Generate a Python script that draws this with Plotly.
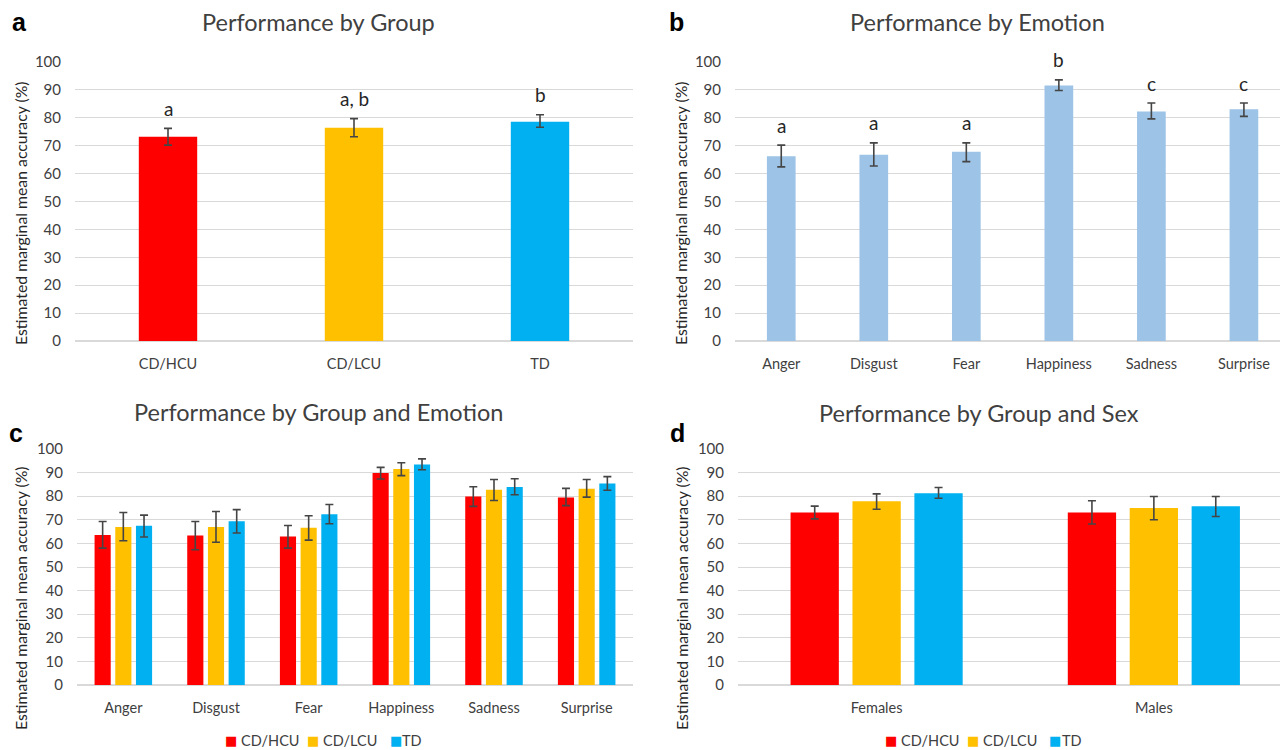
import plotly.graph_objects as go

# ---------------- data ----------------
groups = ["CD/HCU", "CD/LCU", "TD"]
group_colors = ["#FF0000", "#FFC000", "#00B0F0"]

# Panel a: by group
a_mean = [73.2, 76.4, 78.6]
a_lo = [70.2, 73.2, 76.6]
a_hi = [76.2, 79.7, 81.1]
a_letters = ["a", "a, b", "b"]

# Panel b: by emotion
emotions = ["Anger", "Disgust", "Fear", "Happiness", "Sadness", "Surprise"]
b_mean = [66.2, 66.8, 67.8, 91.6, 82.3, 83.1]
b_lo = [62.4, 62.7, 64.3, 89.8, 79.6, 80.5]
b_hi = [70.2, 71.0, 71.0, 93.6, 85.3, 85.3]
b_letters = ["a", "a", "a", "b", "c", "c"]

# Panel c: by group and emotion
c_mean = {
    "CD/HCU": [63.6, 63.4, 62.9, 89.8, 79.9, 79.5],
    "CD/LCU": [67.0, 67.0, 66.6, 91.5, 82.7, 83.2],
    "TD":     [67.5, 69.4, 72.3, 93.4, 83.9, 85.4],
}
c_lo = {
    "CD/HCU": [58.0, 57.3, 58.0, 87.3, 75.7, 76.0],
    "CD/LCU": [61.1, 60.5, 61.4, 88.7, 78.2, 79.6],
    "TD":     [62.7, 64.4, 68.3, 91.2, 80.6, 82.5],
}
c_hi = {
    "CD/HCU": [69.3, 69.3, 67.6, 92.2, 84.0, 83.3],
    "CD/LCU": [73.1, 73.5, 71.7, 94.2, 87.1, 87.1],
    "TD":     [72.0, 74.3, 76.5, 95.8, 87.4, 88.3],
}

# Panel d: by group and sex
sexes = ["Females", "Males"]
d_mean = {"CD/HCU": [73.1, 73.1], "CD/LCU": [77.9, 75.0], "TD": [81.2, 75.7]}
d_lo = {"CD/HCU": [70.4, 68.2], "CD/LCU": [74.5, 70.0], "TD": [79.1, 71.4]}
d_hi = {"CD/HCU": [75.8, 78.1], "CD/LCU": [81.0, 79.9], "TD": [83.7, 79.9]}

y_ticks = [0, 10, 20, 30, 40, 50, 60, 70, 80, 90, 100]

# ---------------- style ----------------
FONT = "Lato"
TXT = "#404040"
GRID = "#D9D9D9"
ERR = "#454545"
W, H = 1280, 750


def err(mean, lo, hi):
    return dict(type="data", symmetric=False,
                array=[h - m for m, h in zip(mean, hi)],
                arrayminus=[m - l for m, l in zip(mean, lo)],
                color=ERR, thickness=1.6, width=4)


fig = go.Figure()

# Panel a
fig.add_trace(go.Bar(x=groups, y=a_mean, marker_color=group_colors, marker_line_width=0,
                     width=0.314, error_y=err(a_mean, a_lo, a_hi), showlegend=False,
                     xaxis="x", yaxis="y"))
# Panel b
fig.add_trace(go.Bar(x=emotions, y=b_mean, marker_color="#9DC3E6", marker_line_width=0,
                     width=0.31, error_y=err(b_mean, b_lo, b_hi), showlegend=False,
                     xaxis="x2", yaxis="y2"))
# Panel c
for g, col in zip(groups, group_colors):
    fig.add_trace(go.Bar(x=emotions, y=c_mean[g], name=g, marker_color=col,
                         marker_line_width=0, showlegend=False,
                         error_y=err(c_mean[g], c_lo[g], c_hi[g]),
                         xaxis="x3", yaxis="y3"))
# Panel d
for g, col in zip(groups, group_colors):
    fig.add_trace(go.Bar(x=sexes, y=d_mean[g], name=g, marker_color=col,
                         marker_line_width=0, showlegend=False,
                         error_y=err(d_mean[g], d_lo[g], d_hi[g]),
                         xaxis="x4", yaxis="y4"))


def px(x):
    return x / W


def py(y):
    return 1 - y / H


yax = dict(range=[0, 100], tickvals=y_ticks, showgrid=True, gridcolor=GRID,
           gridwidth=1.3, zeroline=True, zerolinecolor=GRID, zerolinewidth=1.5,
           showline=False, automargin=False,
           tickfont=dict(family=FONT, size=15, color=TXT), ticklabelstandoff=13,
           fixedrange=True)
xax = dict(showgrid=False, zeroline=False, showline=False, automargin=False,
           tickfont=dict(family=FONT, size=14.5, color=TXT), ticklabelstandoff=12,
           fixedrange=True)

top_dom = [py(341), py(62)]
bot_dom = [py(685), py(449)]

fig.update_layout(
    width=W, height=H, margin=dict(l=0, r=0, t=0, b=0, autoexpand=False),
    paper_bgcolor="white", plot_bgcolor="white", showlegend=False,
    barmode="group", bargap=0.33, bargroupgap=0.22,
    xaxis=dict(xax, domain=[px(75), px(633)], anchor="y", range=[-0.5, 2.5]),
    yaxis=dict(yax, domain=top_dom, anchor="x"),
    xaxis2=dict(xax, domain=[px(735), 1], anchor="y2", range=[-0.5, 5.39]),
    yaxis2=dict(yax, domain=top_dom, anchor="x2"),
    xaxis3=dict(xax, domain=[px(77), px(633)], anchor="y3", range=[-0.5, 5.5]),
    yaxis3=dict(yax, domain=bot_dom, anchor="x3"),
    xaxis4=dict(xax, domain=[px(738), 1], anchor="y4", range=[-0.5, 1.455]),
    yaxis4=dict(yax, domain=bot_dom, anchor="x4"),
)

ann = []
# titles
for text, x, y in [("Performance by Group", 318, 22), ("Performance by Emotion", 977, 22),
                   ("Performance by Group and Emotion", 318, 412),
                   ("Performance by Group and Sex", 979, 413)]:
    ann.append(dict(text=text, x=px(x), y=py(y), xref="paper", yref="paper",
                    showarrow=False, xanchor="center", yanchor="middle",
                    font=dict(family=FONT, size=23.5, color=TXT)))
# panel letters
for text, x, y in [("a", 19, 22), ("b", 676, 22), ("c", 16, 433), ("d", 677, 433)]:
    ann.append(dict(text="<b>%s</b>" % text, x=px(x), y=py(y), xref="paper", yref="paper",
                    showarrow=False, xanchor="center", yanchor="middle",
                    font=dict(family="Liberation Sans", size=25, color="black")))
# y-axis titles
for x, y in [(20, 213), (680, 213), (20, 598), (681, 598)]:
    ann.append(dict(text="Estimated marginal mean accuracy (%)", x=px(x), y=py(y),
                    xref="paper", yref="paper", showarrow=False, textangle=-90,
                    xanchor="center", yanchor="middle",
                    font=dict(family=FONT, size=15.8, color="#262626")))
# significance letters
for cat, hi, t in zip(groups, a_hi, a_letters):
    ann.append(dict(text=t, x=cat, y=hi, xref="x", yref="y", showarrow=False,
                    yanchor="middle", yshift=20, font=dict(family=FONT, size=19, color="#262626")))
for cat, hi, t in zip(emotions, b_hi, b_letters):
    ann.append(dict(text=t, x=cat, y=hi, xref="x2", yref="y2", showarrow=False,
                    yanchor="middle", yshift=20, font=dict(family=FONT, size=19, color="#262626")))

# legends (compact, as in the reference) below panels c and d
legend_slots = {"c": [(231, 240), (313, 322), (396, 401)],
                "d": [(891, 900), (973, 982), (1055, 1061)]}
for panel, slots in legend_slots.items():
    for (sq_x, tx_x), g, col in zip(slots, groups, group_colors):
        ann.append(dict(text="■", x=px(sq_x), y=py(740), xref="paper", yref="paper",
                        showarrow=False, xanchor="center", yanchor="middle", borderpad=0,
                        font=dict(family="DejaVu Sans", size=13, color=col)))
        ann.append(dict(text=g, x=px(tx_x), y=py(740), xref="paper", yref="paper",
                        showarrow=False, xanchor="left", yanchor="middle", borderpad=0,
                        font=dict(family=FONT, size=14.5, color=TXT)))

fig.update_layout(annotations=ann)

fig.write_html("out.html", config={"displayModeBar": False},
               post_script="document.body.style.margin='0px';")
